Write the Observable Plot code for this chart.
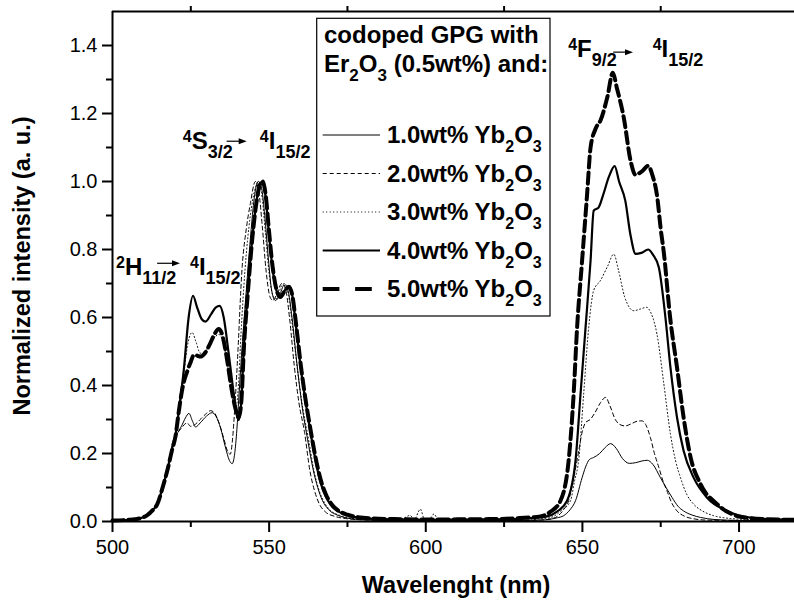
<!DOCTYPE html>
<html><head><meta charset="utf-8">
<script src="https://cdn.jsdelivr.net/npm/d3@7"></script>
<script src="https://cdn.jsdelivr.net/npm/@observablehq/plot@0.6"></script>
<style>
html,body{margin:0;padding:0;background:#fff;}
#chart{width:794px;height:601px;overflow:hidden;}
text{white-space:pre;}
</style></head><body><div id="chart"></div>
<script>
const FONT = "Arial, 'Liberation Sans', Helvetica, sans-serif";

// ---- axis ticks ----
const xTicks = [500, 550, 600, 650, 700];
const xMinor = [525, 575, 625, 675];
const topTicks = [525, 575, 625, 675];
const yTicks = [0, 0.2, 0.4, 0.6, 0.8, 1.0, 1.2, 1.4];
const yMinor = [0.1, 0.3, 0.5, 0.7, 0.9, 1.1, 1.3];

// ---- series labels ----
const seriesLabels = ["1.0wt%", "2.0wt%", "3.0wt%", "4.0wt%", "5.0wt%"];

// ---- series values [wavelength nm, normalized intensity] ----
const yb10 = [[500,0.003],[505,0.005],[509,0.01],[511,0.018],[513,0.035],[514.5,0.06],[516,0.1],[517.5,0.155],[519,0.215],[520.5,0.255],[522,0.28],[523.3,0.305],[524.4,0.318],[525.5,0.296],[526.5,0.278],[528,0.29],[530,0.31],[531.8,0.32],[533,0.31],[534.5,0.275],[536,0.22],[537.3,0.18],[538.2,0.17],[539,0.2],[539.7,0.27],[540.3,0.36],[541.5,0.53],[542.5,0.654],[544,0.83],[545.1,0.94],[546.5,1.0],[547.6,0.98],[548.6,0.9],[549.6,0.79],[550.8,0.68],[552,0.65],[553.3,0.665],[554.8,0.695],[556,0.68],[557.3,0.6],[558.8,0.47],[560.5,0.34],[562.3,0.24],[564,0.155],[565.5,0.1],[567,0.062],[569,0.035],[572,0.018],[575,0.01],[580,0.005],[590,0.003],[630,0.003],[636.6,0.004],[640,0.007],[642,0.011],[644,0.017],[646,0.034],[647.8,0.061],[649.9,0.129],[651,0.16],[652.2,0.182],[653.5,0.188],[655.5,0.2],[657.3,0.218],[659,0.229],[660.8,0.215],[662.8,0.185],[665,0.171],[667,0.173],[669,0.178],[670.7,0.18],[672.5,0.168],[674.9,0.129],[676.7,0.1],[678.6,0.071],[680.5,0.045],[682.3,0.031],[685,0.019],[687.7,0.012],[692,0.006],[700,0.003],[718,0.002]];

const yb20 = [[500,0.003],[505,0.005],[509,0.01],[511,0.018],[513,0.035],[514.5,0.06],[516,0.1],[517.5,0.155],[519,0.215],[520.5,0.255],[522,0.275],[523.8,0.29],[524.9,0.28],[526,0.283],[528,0.3],[530,0.318],[531.3,0.326],[532.5,0.32],[534,0.29],[535.5,0.245],[536.8,0.205],[537.6,0.198],[538.3,0.24],[539,0.33],[539.8,0.458],[541.4,0.75],[542.7,0.86],[544,0.935],[545.6,1.0],[546.7,0.97],[547.8,0.87],[549,0.74],[550.3,0.66],[551.2,0.65],[552.5,0.67],[554,0.7],[555.2,0.685],[556.5,0.6],[558,0.46],[559.5,0.35],[561.3,0.262],[563,0.15],[564.5,0.09],[566,0.052],[568,0.028],[571,0.015],[575,0.008],[580,0.005],[590,0.003],[630,0.003],[636,0.004],[640,0.008],[642,0.015],[644,0.035],[645.6,0.061],[647,0.12],[648.3,0.179],[649.9,0.262],[651,0.291],[652.5,0.3],[654,0.32],[655.8,0.35],[657.4,0.365],[658.8,0.34],[660.5,0.3],[662,0.285],[663.7,0.281],[665.5,0.287],[667.5,0.295],[669,0.296],[670.2,0.285],[671.7,0.247],[673,0.2],[674.4,0.159],[675.7,0.12],[677,0.09],[678.5,0.055],[680.2,0.031],[682.5,0.016],[685.5,0.008],[690,0.004],[700,0.003],[718,0.002]];

const yb30 = [[500,0.003],[505,0.005],[509,0.01],[511,0.018],[513,0.035],[514.5,0.06],[516,0.1],[517.5,0.155],[519,0.225],[520.3,0.27],[521.5,0.34],[522.8,0.44],[524.2,0.53],[525.4,0.556],[526.6,0.53],[528,0.495],[530,0.505],[532,0.535],[534,0.55],[535.5,0.52],[537,0.44],[538.3,0.36],[539.3,0.33],[540.2,0.4],[541,0.55],[542.3,0.74],[544,0.9],[545.3,0.97],[546.7,1.0],[547.8,0.95],[548.8,0.85],[550,0.73],[551.4,0.66],[552.5,0.655],[553.8,0.69],[555,0.7],[556.2,0.665],[557.5,0.57],[559,0.45],[560.8,0.33],[562.6,0.24],[564.3,0.15],[566,0.09],[567.5,0.058],[569.5,0.033],[572.5,0.018],[576,0.01],[580,0.006],[586,0.004],[590,0.005],[593,0.01],[595,0.018],[596.3,0.006],[598.3,0.036],[599.5,0.008],[601,0.005],[602.6,0.022],[604,0.005],[610,0.004],[630,0.004],[636,0.007],[640,0.012],[643,0.03],[646.2,0.061],[647.5,0.12],[648.8,0.179],[650.4,0.375],[652,0.57],[653.6,0.68],[655.7,0.708],[658,0.75],[660,0.786],[661.5,0.74],[663.5,0.66],[666.4,0.62],[668.5,0.625],[670.5,0.63],[671.8,0.615],[673.8,0.551],[676,0.404],[678.1,0.257],[679.7,0.18],[681.3,0.129],[683.3,0.08],[685.5,0.051],[688.5,0.03],[691.9,0.017],[696,0.01],[702,0.006],[710,0.004],[718,0.003]];

const yb40 = [[500,0.003],[505,0.005],[509,0.01],[511,0.018],[513,0.035],[514.3,0.051],[516,0.1],[517.5,0.152],[519,0.215],[520.1,0.255],[521.5,0.35],[522.8,0.45],[524.3,0.6],[525.7,0.664],[527,0.63],[528.5,0.595],[529.7,0.588],[531.5,0.61],[533,0.63],[534.2,0.634],[535.5,0.6],[537,0.5],[538.5,0.39],[539.5,0.32],[540.3,0.298],[541,0.34],[541.9,0.507],[543,0.654],[544.5,0.82],[545.8,0.93],[547,0.99],[547.8,1.0],[548.8,0.96],[549.8,0.86],[551,0.75],[552.3,0.68],[553.5,0.66],[555,0.68],[556.3,0.693],[557.3,0.67],[558.5,0.58],[560,0.458],[561.5,0.36],[563.2,0.262],[564.8,0.18],[566.4,0.115],[568,0.075],[569.6,0.05],[572.8,0.026],[575,0.018],[580,0.01],[590,0.006],[600,0.005],[620,0.006],[630,0.008],[635,0.011],[638.7,0.015],[642,0.03],[645.1,0.061],[647.8,0.179],[649.4,0.375],[651,0.57],[652.6,0.767],[653.6,0.914],[655.2,0.924],[656.6,0.96],[658.5,1.015],[660.3,1.045],[661.7,1.0],[663.7,0.943],[665.3,0.845],[667,0.787],[668.8,0.79],[671,0.8],[672.5,0.785],[674.4,0.747],[676.5,0.6],[678.1,0.453],[680.2,0.306],[682.3,0.208],[685.5,0.129],[689.8,0.07],[696.2,0.031],[700.4,0.017],[708,0.008],[718,0.005]];

const yb50 = [[500,0.003],[505,0.005],[509,0.01],[511,0.018],[513,0.035],[514.3,0.051],[516,0.1],[517.5,0.15],[519,0.21],[520.1,0.25],[521.2,0.326],[522.5,0.4],[523.8,0.44],[525,0.47],[526,0.49],[527,0.488],[528.1,0.485],[529.5,0.495],[531,0.52],[532.5,0.55],[533.9,0.566],[535,0.55],[536.5,0.48],[538,0.39],[539.3,0.33],[540.3,0.306],[541.1,0.35],[542,0.52],[543.1,0.66],[544.6,0.83],[545.9,0.935],[547,0.99],[547.9,1.0],[548.9,0.96],[549.9,0.86],[551.1,0.75],[552.4,0.68],[553.6,0.66],[555.1,0.68],[556.4,0.69],[557.4,0.665],[558.6,0.58],[560.1,0.46],[561.6,0.36],[563.3,0.265],[565,0.18],[566.6,0.118],[568.2,0.078],[570,0.05],[573,0.027],[575,0.02],[580,0.011],[590,0.007],[600,0.006],[620,0.007],[630,0.01],[636.6,0.015],[640,0.03],[643,0.061],[645.6,0.179],[647.2,0.375],[648.3,0.57],[649.9,0.767],[651.5,0.963],[652.6,1.1],[654.2,1.155],[655.8,1.18],[658,1.25],[659.7,1.32],[661,1.275],[663.2,1.188],[665.4,1.06],[666.9,1.02],[669,1.03],[671,1.046],[672.3,1.02],[673.9,0.953],[675,0.86],[676,0.79],[678,0.6],[680.2,0.453],[682.3,0.306],[684.5,0.19],[687.7,0.11],[693,0.051],[700.4,0.014],[708,0.007],[718,0.005]];

const seriesData = [yb10, yb20, yb30, yb40, yb50];

// ---- styles (kept apart from data) ----
const lineStyles = [
  {w: 1, dash: null},
  {w: 1, dash: "4,3"},
  {w: 1, dash: "1,2.5"},
  {w: 2.2, dash: null},
  {w: 4, dash: "11,5"}
];
const legendDash = [null, "4,3", "1,2.5", null, "16.7,15.7"];

const chart = Plot.plot({
  width: 794, height: 601,
  marginLeft: 112, marginRight: 0, marginTop: 11, marginBottom: 80,
  x: {domain: [500, 717.7]},
  y: {domain: [0, 1.5]},
  style: {fontFamily: FONT, fontSize: "20px", background: "white", color: "black"},
  marks: [
    ...seriesData.map((d, i) => Plot.line(d, {
      x: p => p[0], y: p => p[1], stroke: "black",
      strokeWidth: lineStyles[i].w, strokeDasharray: lineStyles[i].dash,
      curve: "monotone-x"
    })),
    Plot.axisX({ticks: xTicks, tickSize: 11, tickPadding: 7, tickFormat: d => String(d), fontSize: 20, strokeWidth: 2, label: null}),
    Plot.axisX({ticks: xMinor, tickSize: 6, tickFormat: () => "", strokeWidth: 2, label: null}),
    Plot.axisX({anchor: "top", ticks: topTicks, tickSize: 6, tickFormat: () => "", strokeWidth: 2, label: null}),
    Plot.axisY({ticks: yTicks, tickSize: 10, tickPadding: 5, tickFormat: d3.format(".1f"), fontSize: 20, strokeWidth: 2, label: null}),
    Plot.axisY({ticks: yMinor, tickSize: 6, tickFormat: () => "", strokeWidth: 2, label: null}),
    Plot.ruleX([500], {strokeWidth: 2}),
    Plot.ruleY([0], {strokeWidth: 2}),
    Plot.ruleY([1.5], {strokeWidth: 2})
  ]
});
document.getElementById("chart").appendChild(chart);

const svg = d3.select(chart);
const X = v => chart.scale("x").apply(v);
const Y = v => chart.scale("y").apply(v);

function rich(g, x, y, parts, size) {
  const t = g.append("text").attr("x", x).attr("y", y)
    .attr("text-anchor", "start")
    .attr("font-family", FONT).attr("font-weight", "bold")
    .attr("font-size", size).attr("fill", "black");
  let shift = 0;
  for (const p of parts) {
    const target = p.dy || 0;
    t.append("tspan").attr("dy", target - shift).attr("font-size", p.size || size).text(p.t);
    shift = target;
  }
  return t;
}
function arrow(g, x1, x2, y) {
  g.append("line").attr("x1", x1).attr("x2", x2 - 5).attr("y1", y).attr("y2", y)
    .attr("stroke", "black").attr("stroke-width", 1.2);
  g.append("path").attr("d", `M${x2},${y} L${x2 - 8},${y - 3} L${x2 - 8},${y + 3} Z`).attr("fill", "black");
}

// ---- axis titles ----
svg.append("text").attr("x", 456).attr("y", 593).attr("text-anchor", "middle")
  .attr("font-family", FONT).attr("font-weight", "bold").attr("font-size", 23.5)
  .text("Wavelenght (nm)");
svg.append("text").attr("transform", "translate(30,266) rotate(-90)").attr("text-anchor", "middle")
  .attr("font-family", FONT).attr("font-weight", "bold").attr("font-size", 23.5)
  .text("Normalized intensity (a. u.)");

// ---- transition annotations (placed in data coordinates) ----
const annotations = [
  {from: ["2", "H", "11/2"], to: ["4", "I", "15/2"], x1: 501.3, x2: 524.9, y: 0.7226, ax1: 514.4, ax2: 521.7, ay: 0.758},
  {from: ["4", "S", "3/2"], to: ["4", "I", "15/2"], x1: 522.6, x2: 547.2, y: 1.094, ax1: 536.6, ax2: 543.0, ay: 1.117},
  {from: ["4", "F", "9/2"], to: ["4", "I", "15/2"], x1: 645.6, x2: 672.6, y: 1.365, ax1: 660.0, ax2: 666.3, ay: 1.379}
];
const ag = svg.append("g");
for (const a of annotations) {
  for (const [lab, xx] of [[a.from, a.x1], [a.to, a.x2]]) {
    rich(ag, X(xx), Y(a.y), [
      {t: lab[0], dy: -7, size: 16},
      {t: lab[1]},
      {t: lab[2], dy: 9, size: 18}
    ], 24);
  }
  arrow(ag, X(a.ax1), X(a.ax2), Y(a.ay));
}

// ---- legend ----
const lg = svg.append("g");
lg.append("rect").attr("x", 316.7).attr("y", 18.3).attr("width", 233.3).attr("height", 297.7)
  .attr("fill", "white").attr("stroke", "black").attr("stroke-width", 1.2);
rich(lg, 324, 42.5, [{t: "codoped GPG with"}], 24);
rich(lg, 324, 72, [{t: "Er"}, {t: "2", dy: 9, size: 17}, {t: "O"}, {t: "3", dy: 9, size: 17}, {t: " (0.5wt%) and:"}], 24);
seriesLabels.forEach((lab, i) => {
  const by = 143.3 + i * 38.5;
  lg.append("line").attr("x1", 322.7).attr("x2", 380).attr("y1", by - 8.3).attr("y2", by - 8.3)
    .attr("stroke", "black").attr("stroke-width", lineStyles[i].w)
    .attr("stroke-dasharray", legendDash[i]);
  rich(lg, 387, by, [{t: lab + " Yb"}, {t: "2", dy: 9, size: 16}, {t: "O"}, {t: "3", dy: 9, size: 16}], 24);
});
</script>
</body></html>
